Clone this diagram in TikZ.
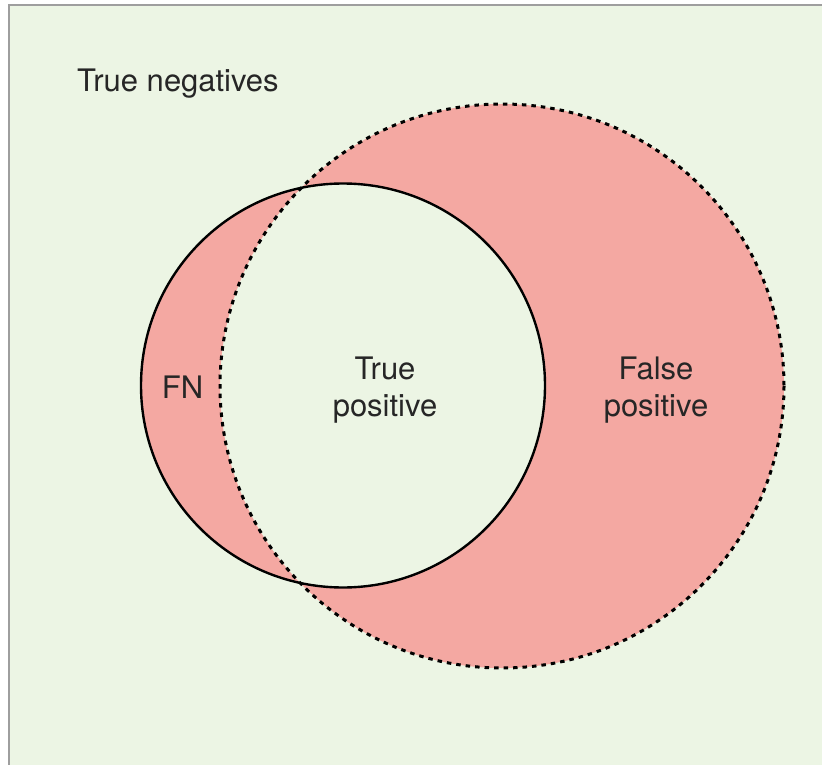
\documentclass[tikz,border=0pt]{standalone}
\usepackage{fontspec}
\setmainfont{TeX Gyre Heros}
\definecolor{negbg}{RGB}{236,245,228}
\definecolor{posfill}{RGB}{244,168,162}
\definecolor{framegray}{RGB}{158,158,158}
\tikzset{
  label text/.style={font=\fontsize{31}{37}\selectfont, text=black!85, inner sep=0pt, align=center},
  actual set/.style={draw=black, line width=2.4pt},
  predicted set/.style={draw=black, line width=3pt, dash pattern=on 4.5pt off 5pt},
}
\begin{document}
\begin{tikzpicture}[x=1pt,y=-1pt]
  \useasboundingbox (0,0) rectangle (822,765);
  % panel background and frame
  \fill[negbg] (9,5) rectangle (822,765);
  \draw[framegray, line width=2.5pt] (9,765) -- (9,5) -- (822,5);
  % the two sets
  \coordinate (actual) at (343,385.5);
  \coordinate (predicted) at (502,386);
  \fill[posfill, even odd rule] (actual) circle (202) (predicted) circle (282);
  \draw[predicted set] (predicted) circle (282);
  \draw[actual set] (actual) circle (202);
  % labels
  \node[label text, anchor=base west] (tn) at (77,92) {True negatives};
  \node[label text] (fn) at (182.5,387) {FN};
  \node[label text] (tp) at (385,390) {True\\positive};
  \node[label text] (fp) at (656,390) {False\\positive};
\end{tikzpicture}
\end{document}
